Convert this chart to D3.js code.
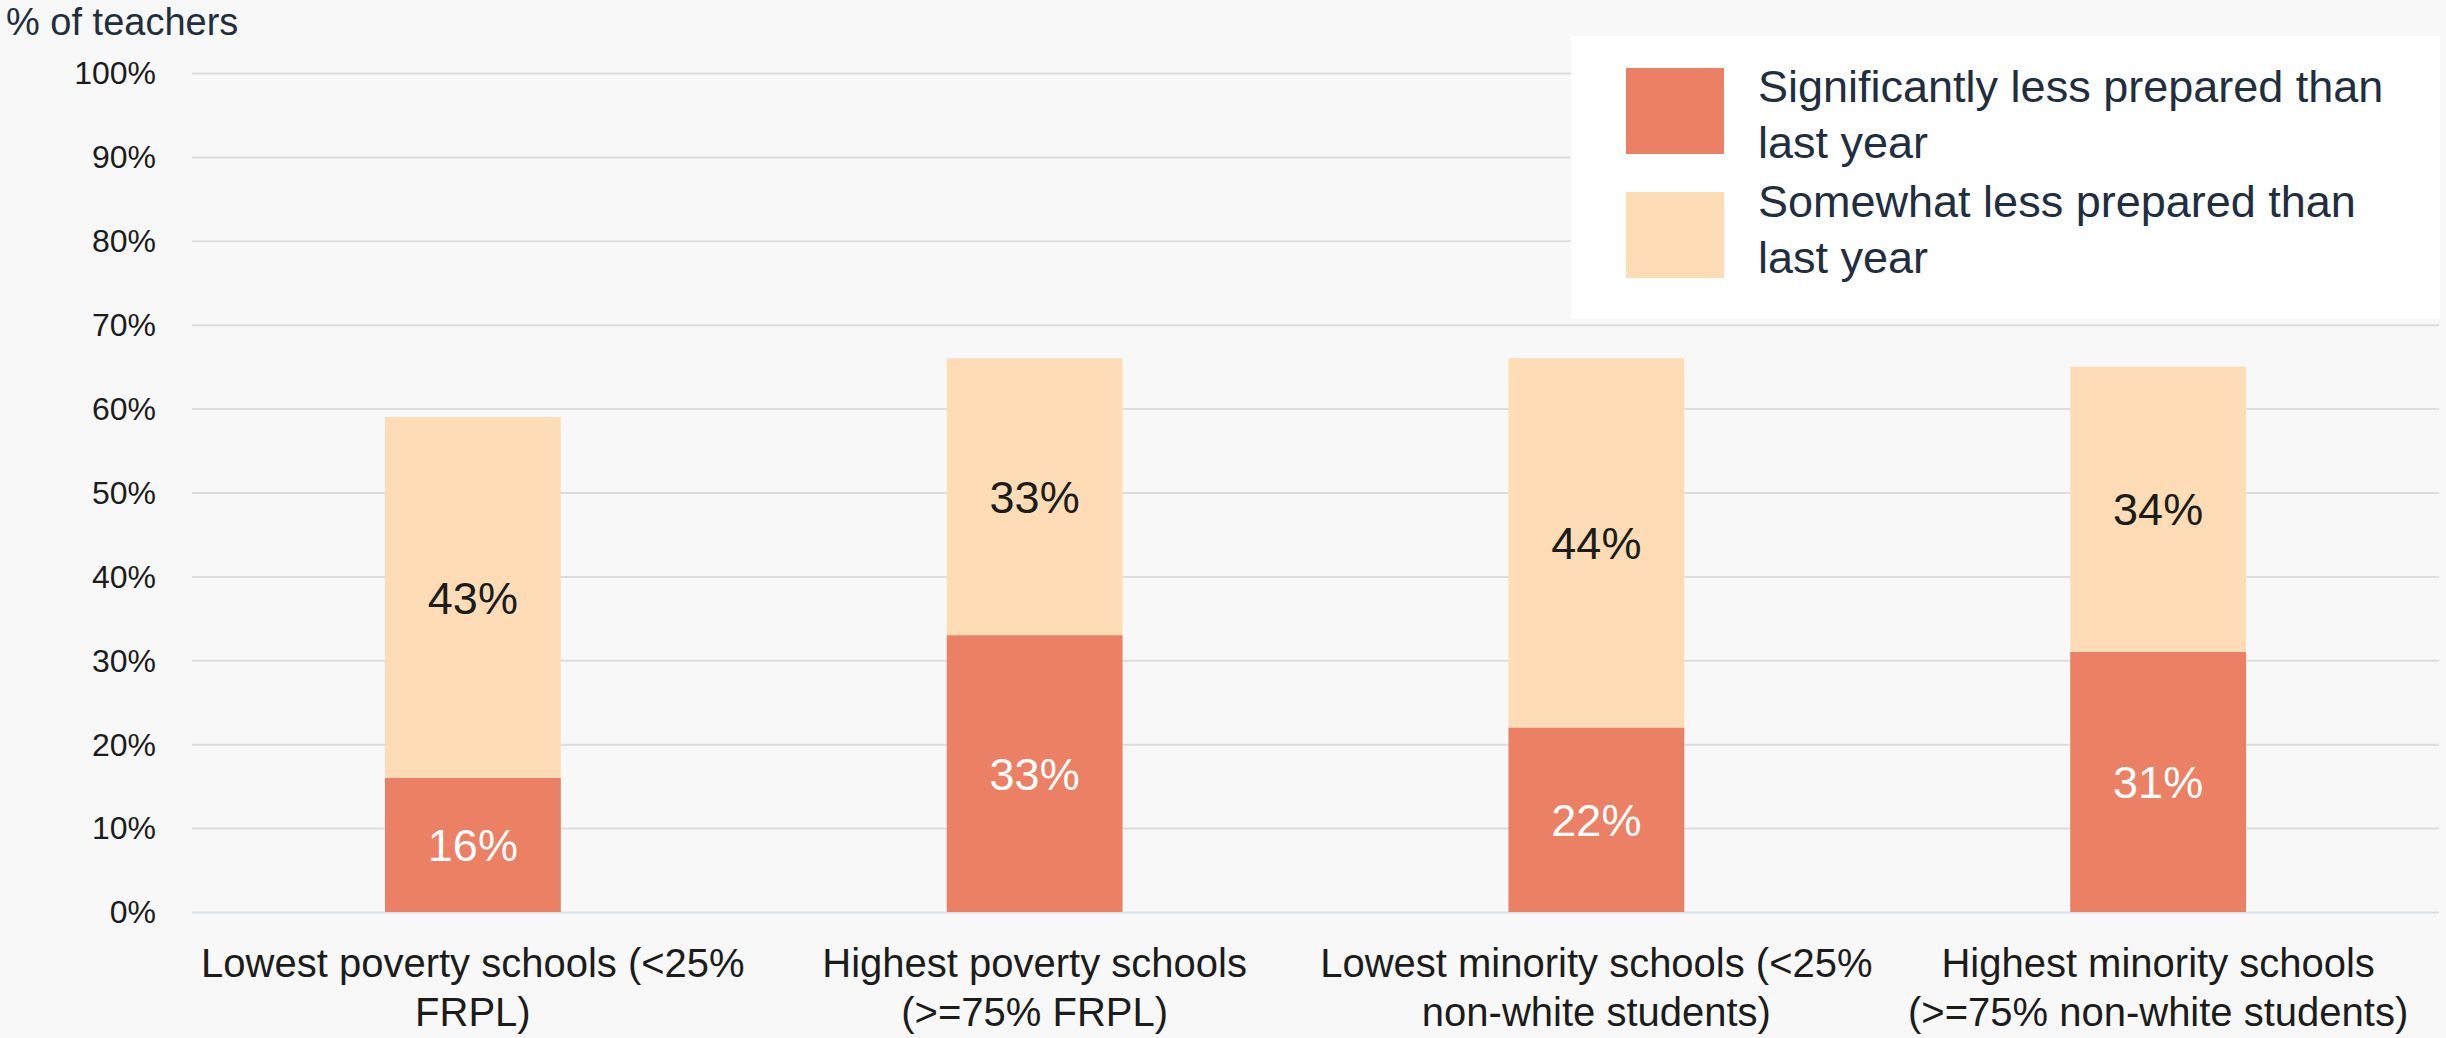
<!DOCTYPE html>
<html>
<head>
<meta charset="utf-8">
<script src="https://cdn.jsdelivr.net/npm/d3@7"></script>
<style>
  html, body { margin: 0; padding: 0; background: #f8f8f8; }
  svg { display: block; font-family: "Liberation Sans", Arial, sans-serif; }
</style>
</head>
<body>
<svg id="chart" width="2446" height="1038"></svg>
<script>
// Teachers feeling less prepared than last year, by school type
const categories = [
  "Lowest poverty schools (<25%\nFRPL)",
  "Highest poverty schools\n(>=75% FRPL)",
  "Lowest minority schools (<25%\nnon-white students)",
  "Highest minority schools\n(>=75% non-white students)"
];
const seriesNames = [
  "Significantly less prepared than\nlast year",
  "Somewhat less prepared than\nlast year"
];
const significantlyLess = [16, 33, 22, 31];
const somewhatLess = [43, 33, 44, 34];
const yTicks = [0, 10, 20, 30, 40, 50, 60, 70, 80, 90, 100];
const yTitle = "% of teachers";

const colors = ["#ec8064", "#fedcb6"];
const labelColors = ["#ffffff", "#1c1c1c"];

const W = 2446, H = 1038;
const plot = { left: 192, right: 2439, top: 73, bottom: 912 };

const svg = d3.select("#chart");
svg.append("rect").attr("width", W).attr("height", H).attr("fill", "#f8f8f8");

const x = d3.scaleBand()
  .domain(categories)
  .range([plot.left, plot.right])
  .paddingInner(0.687)
  .paddingOuter(0.3435);

const y = d3.scaleLinear().domain([0, 100]).range([plot.bottom, plot.top]);

// Gridlines and value axis
const yAxis = d3.axisLeft(y)
  .tickValues(yTicks)
  .tickFormat(d => d + "%")
  .tickSize(-(plot.right - plot.left))
  .tickPadding(36);

const gy = svg.append("g")
  .attr("transform", `translate(${plot.left},0)`)
  .call(yAxis);
gy.select(".domain").remove();
gy.selectAll(".tick line")
  .attr("stroke", d => d === 0 ? "#d6e0ea" : "#dddddd")
  .attr("stroke-width", 2);
gy.selectAll(".tick text")
  .attr("fill", "#1c1c1c")
  .attr("font-size", 32)
  .attr("dy", "0.34em")
  .style("font-family", "'Liberation Sans', Arial, sans-serif");

// Axis title
svg.append("text")
  .attr("x", 6)
  .attr("y", 35)
  .attr("fill", "#1f2e40")
  .attr("font-size", 38)
  .text(yTitle);

// Stacked bars
const rows = categories.map((c, i) => ({ cat: c, s0: significantlyLess[i], s1: somewhatLess[i] }));
const stack = d3.stack().keys(["s0", "s1"]);
const layers = stack(rows);

const layerG = svg.append("g").selectAll("g")
  .data(layers)
  .join("g")
  .attr("fill", (d, i) => colors[i]);

layerG.selectAll("rect")
  .data(d => d)
  .join("rect")
  .attr("x", d => x(d.data.cat))
  .attr("width", x.bandwidth())
  .attr("y", d => y(d[1]))
  .attr("height", d => y(d[0]) - y(d[1]));

// Segment value labels
layers.forEach((layer, li) => {
  svg.append("g").selectAll("text")
    .data(layer)
    .join("text")
    .attr("x", d => x(d.data.cat) + x.bandwidth() / 2)
    .attr("y", d => y((d[0] + d[1]) / 2))
    .attr("dy", "0.36em")
    .attr("text-anchor", "middle")
    .attr("font-size", 45)
    .attr("fill", labelColors[li])
    .text(d => (d[1] - d[0]) + "%");
});

// Category labels
const catG = svg.append("g").selectAll("text")
  .data(categories)
  .join("text")
  .attr("text-anchor", "middle")
  .attr("font-size", 40)
  .attr("fill", "#1c1c1c");
catG.selectAll("tspan")
  .data(c => c.split("\n").map(line => ({ c, line })))
  .join("tspan")
  .attr("x", d => x(d.c) + x.bandwidth() / 2)
  .attr("y", (d, i) => 977 + i * 49)
  .text(d => d.line);

// Legend
const legend = svg.append("g");
legend.append("rect")
  .attr("x", 1571).attr("y", 36)
  .attr("width", 869).attr("height", 283)
  .attr("fill", "#ffffff");

const legendItems = legend.selectAll("g.item")
  .data(seriesNames)
  .join("g")
  .attr("class", "item");

legendItems.append("rect")
  .attr("x", 1626)
  .attr("y", (d, i) => 68 + i * 124)
  .attr("width", 98).attr("height", 86)
  .attr("fill", (d, i) => colors[i]);

const lt = legendItems.append("text")
  .attr("font-size", 45)
  .attr("fill", "#1f2e40");
lt.each(function (d, i) {
  d3.select(this).selectAll("tspan")
    .data(d.split("\n"))
    .join("tspan")
    .attr("x", 1758)
    .attr("y", (line, j) => 102 + i * 115 + j * 56)
    .text(line => line);
});
</script>
</body>
</html>
